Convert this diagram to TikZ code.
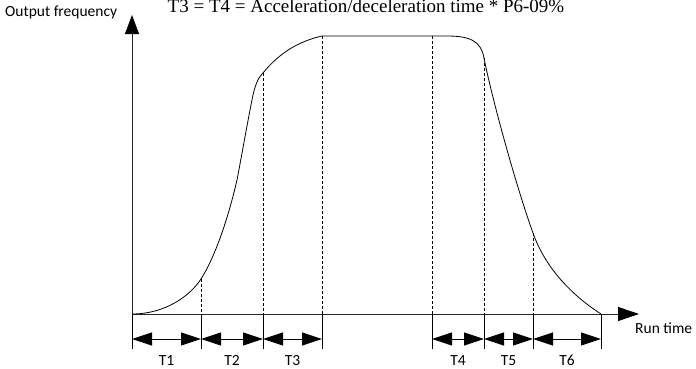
\documentclass[tikz,border=0pt]{standalone}
\usepackage{fontspec}
\setmainfont{Carlito}
\newfontfamily\titlefont{Liberation Serif}
\usetikzlibrary{arrows.meta}

\begin{document}
\begin{tikzpicture}[x=1pt,y=1pt,
  axis/.style={line width=0.9pt,draw=black!85,fill=black},
  curve/.style={line width=0.8pt},
  guide/.style={line width=0.6pt,dash pattern=on 3pt off 2pt},
  tick/.style={line width=0.8pt},
  span/.style={line width=0.8pt,{Triangle[length=20pt,width=13pt]}-{Triangle[length=20pt,width=13pt]}},
  lbl/.style={font=\fontsize{15.5}{18}\selectfont,inner sep=0pt}]
  \useasboundingbox (-132,-54) rectangle (564,314);
  % axes and their labels
  \coordinate (O) at (0,0);
  \coordinate (ytop) at (0,299);
  \coordinate (xend) at (507,0);
  \draw[axis,-{Triangle[length=19pt,width=14pt,color=black]}] (O) -- (ytop);
  \draw[axis,-{Triangle[length=21pt,width=14pt,color=black]}] (O) -- (xend);
  \node[lbl,anchor=base west] (ylabel) at (-127,298) {Output frequency};
  \node[lbl,anchor=base west] (xlabel) at (503,-19) {Run time};
  \node[font=\titlefont\fontsize{19}{22}\selectfont,anchor=base,inner sep=0pt] (title) at (234,302)
    {T3 = T4 = Acceleration/deceleration time * P6-09\%};
  % phase boundaries
  \foreach \i/\x in {0/0,1/69,2/131,3/190,4/300,5/352,6/401,7/469}{
    \coordinate (b\i) at (\x,0);
    \coordinate (m\i) at (\x,-25);
    \coordinate (d\i) at (\x,-35);
    \draw[tick] (b\i) -- (d\i);
  }
  % points on the curve
  \coordinate (c1) at (69,35);
  \coordinate (c2) at (131,241);
  \coordinate (c3) at (190,278);
  \coordinate (c4) at (300,278);
  \coordinate (c5) at (352,256);
  \coordinate (c6) at (401,81);
  \foreach \i in {1,...,6}
    \draw[guide] (c\i) -- (b\i);
  % S-curve
  \draw[curve] (O) .. controls (33,0) and (58,18) .. (c1)
    .. controls (83,57) and (96,95) .. (105,134)
    .. controls (110,160) and (117,200) .. (121,219)
    .. controls (124,232) and (127,237) .. (c2)
    .. controls (148,262) and (168,273) .. (c3) -- (c4) -- (315,278)
    .. controls (338,278) and (349,273) .. (c5)
    .. controls (360,215) and (385,125) .. (c6)
    .. controls (412,50) and (435,22) .. (b7);
  % time spans
  \foreach \a/\b/\t in {0/1/T1,1/2/T2,2/3/T3,4/5/T4,5/6/T5,6/7/T6}
    \draw[span] (m\a) -- node[lbl,below=16pt] (t\a) {\t} (m\b);
\end{tikzpicture}
\end{document}
